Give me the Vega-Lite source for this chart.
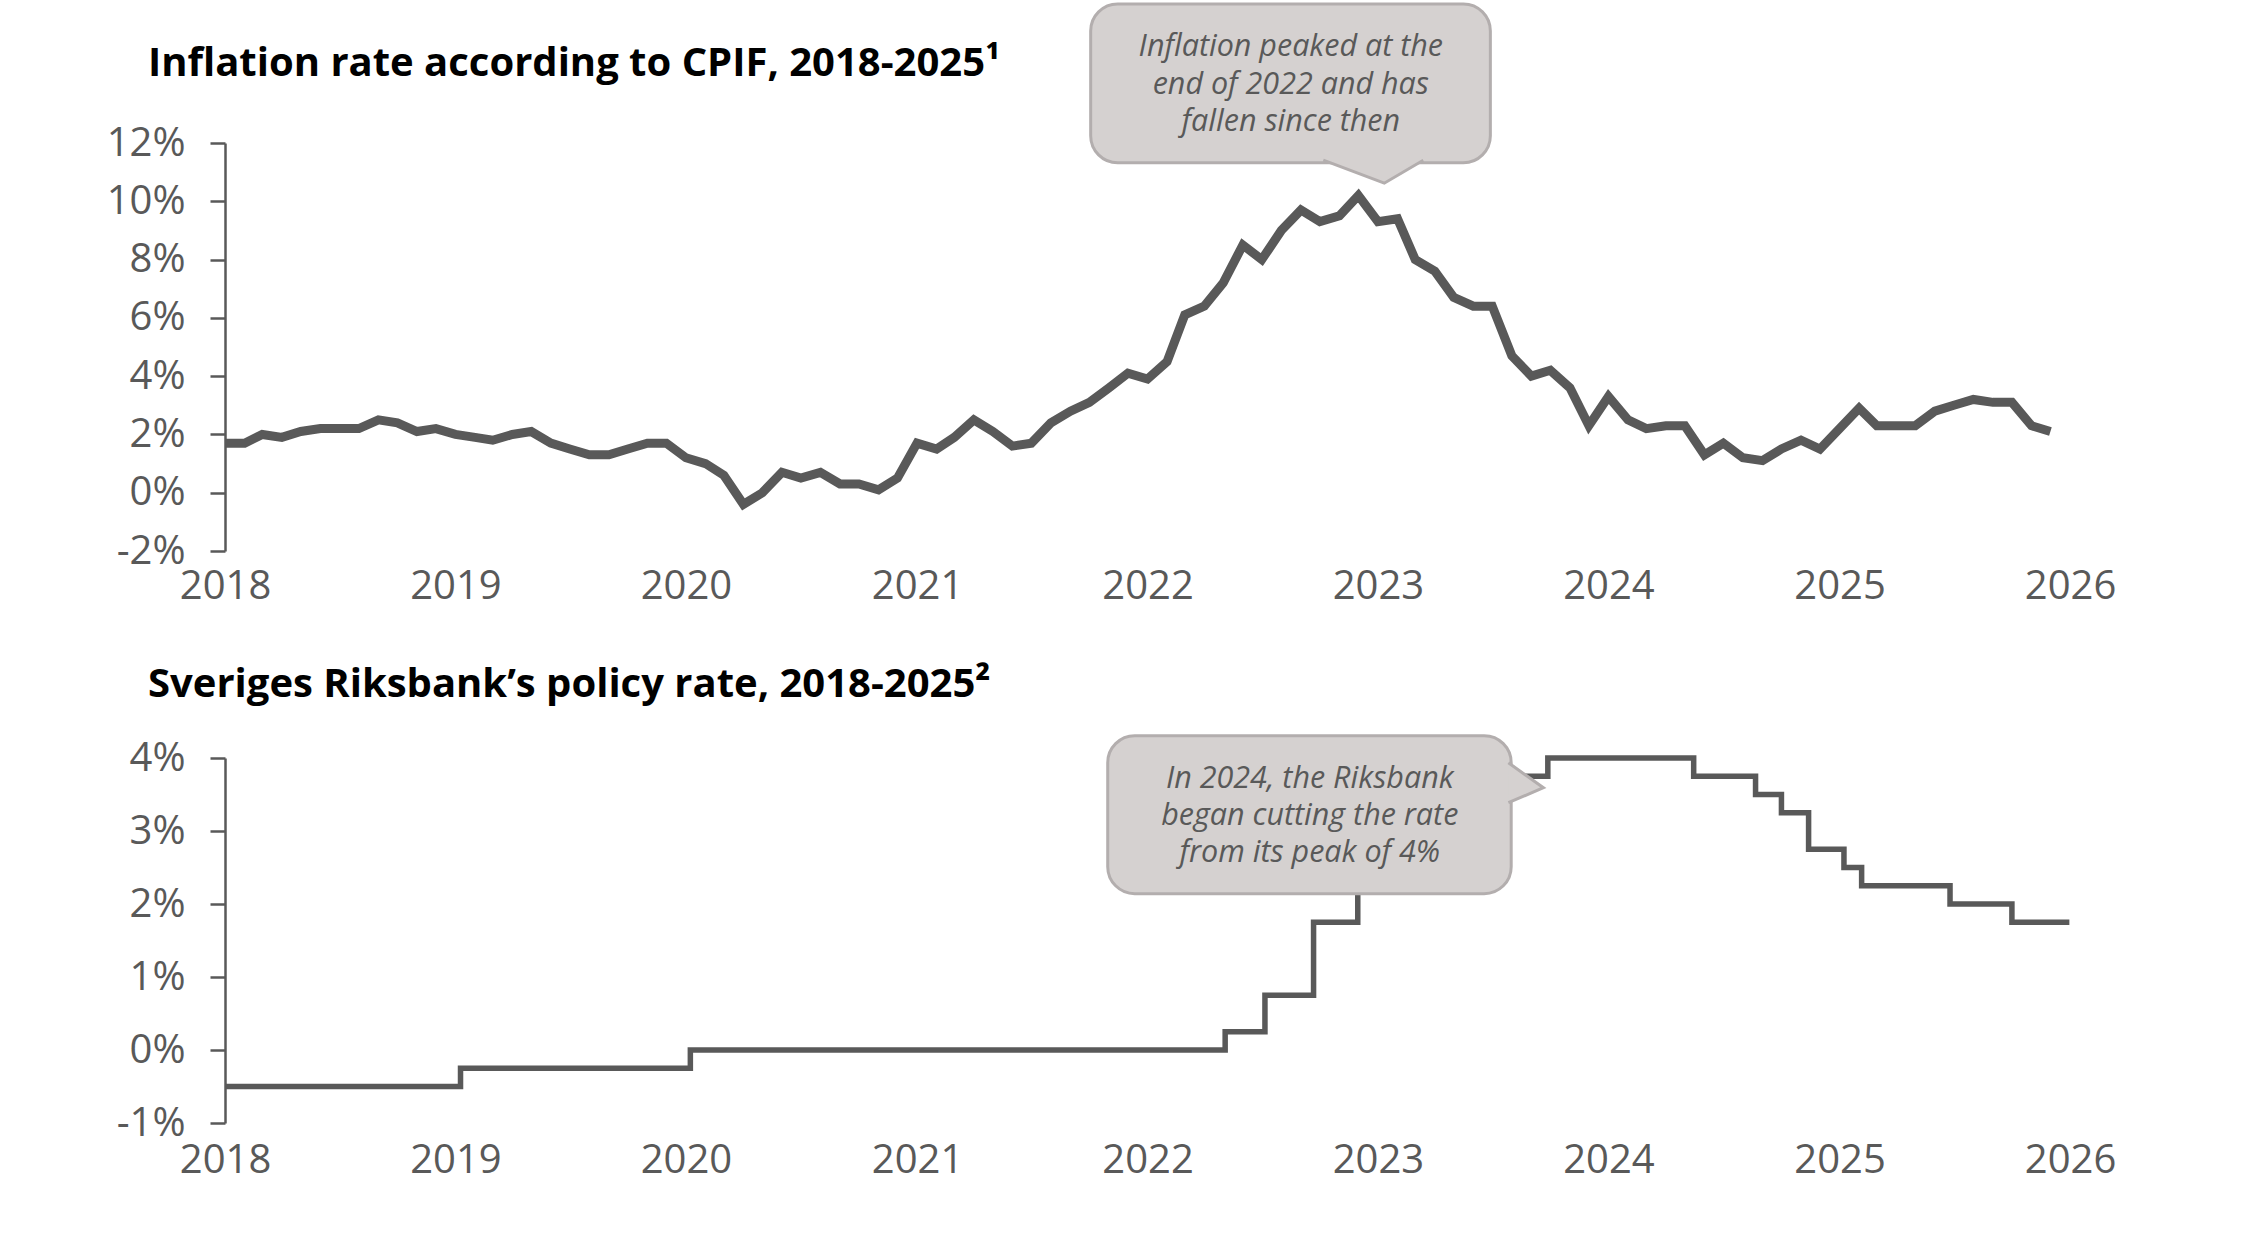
{
  "$schema": "https://vega.github.io/schema/vega-lite/v6.json",
  "background": "white",
  "padding": {"left": 106, "top": 2, "right": 10, "bottom": 12},
  "config": {
    "font": "Open Sans",
    "view": {"stroke": null},
    "axis": {"labelFont": "Open Sans", "labelColor": "#595959", "labelFontSize": 40, "grid": false, "domainColor": "#595959", "tickColor": "#595959", "title": null}
  },
  "datasets": {
    "cpif": [
      {"date": "2018-01-01", "cpif": 1.7}, {"date": "2018-02-01", "cpif": 1.7}, {"date": "2018-03-01", "cpif": 2.0}, {"date": "2018-04-01", "cpif": 1.9},
      {"date": "2018-05-01", "cpif": 2.1}, {"date": "2018-06-01", "cpif": 2.2}, {"date": "2018-07-01", "cpif": 2.2}, {"date": "2018-08-01", "cpif": 2.2},
      {"date": "2018-09-01", "cpif": 2.5}, {"date": "2018-10-01", "cpif": 2.4}, {"date": "2018-11-01", "cpif": 2.1}, {"date": "2018-12-01", "cpif": 2.2},
      {"date": "2019-01-01", "cpif": 2.0}, {"date": "2019-02-01", "cpif": 1.9}, {"date": "2019-03-01", "cpif": 1.8}, {"date": "2019-04-01", "cpif": 2.0},
      {"date": "2019-05-01", "cpif": 2.1}, {"date": "2019-06-01", "cpif": 1.7}, {"date": "2019-07-01", "cpif": 1.5}, {"date": "2019-08-01", "cpif": 1.3},
      {"date": "2019-09-01", "cpif": 1.3}, {"date": "2019-10-01", "cpif": 1.5}, {"date": "2019-11-01", "cpif": 1.7}, {"date": "2019-12-01", "cpif": 1.7},
      {"date": "2020-01-01", "cpif": 1.2}, {"date": "2020-02-01", "cpif": 1.0}, {"date": "2020-03-01", "cpif": 0.6}, {"date": "2020-04-01", "cpif": -0.4},
      {"date": "2020-05-01", "cpif": 0.0}, {"date": "2020-06-01", "cpif": 0.7}, {"date": "2020-07-01", "cpif": 0.5}, {"date": "2020-08-01", "cpif": 0.7},
      {"date": "2020-09-01", "cpif": 0.3}, {"date": "2020-10-01", "cpif": 0.3}, {"date": "2020-11-01", "cpif": 0.1}, {"date": "2020-12-01", "cpif": 0.5},
      {"date": "2021-01-01", "cpif": 1.7}, {"date": "2021-02-01", "cpif": 1.5}, {"date": "2021-03-01", "cpif": 1.9}, {"date": "2021-04-01", "cpif": 2.5},
      {"date": "2021-05-01", "cpif": 2.1}, {"date": "2021-06-01", "cpif": 1.6}, {"date": "2021-07-01", "cpif": 1.7}, {"date": "2021-08-01", "cpif": 2.4},
      {"date": "2021-09-01", "cpif": 2.8}, {"date": "2021-10-01", "cpif": 3.1}, {"date": "2021-11-01", "cpif": 3.6}, {"date": "2021-12-01", "cpif": 4.1},
      {"date": "2022-01-01", "cpif": 3.9}, {"date": "2022-02-01", "cpif": 4.5}, {"date": "2022-03-01", "cpif": 6.1}, {"date": "2022-04-01", "cpif": 6.4},
      {"date": "2022-05-01", "cpif": 7.2}, {"date": "2022-06-01", "cpif": 8.5}, {"date": "2022-07-01", "cpif": 8.0}, {"date": "2022-08-01", "cpif": 9.0},
      {"date": "2022-09-01", "cpif": 9.7}, {"date": "2022-10-01", "cpif": 9.3}, {"date": "2022-11-01", "cpif": 9.5}, {"date": "2022-12-01", "cpif": 10.2},
      {"date": "2023-01-01", "cpif": 9.3}, {"date": "2023-02-01", "cpif": 9.4}, {"date": "2023-03-01", "cpif": 8.0}, {"date": "2023-04-01", "cpif": 7.6},
      {"date": "2023-05-01", "cpif": 6.7}, {"date": "2023-06-01", "cpif": 6.4}, {"date": "2023-07-01", "cpif": 6.4}, {"date": "2023-08-01", "cpif": 4.7},
      {"date": "2023-09-01", "cpif": 4.0}, {"date": "2023-10-01", "cpif": 4.2}, {"date": "2023-11-01", "cpif": 3.6}, {"date": "2023-12-01", "cpif": 2.3},
      {"date": "2024-01-01", "cpif": 3.3}, {"date": "2024-02-01", "cpif": 2.5}, {"date": "2024-03-01", "cpif": 2.2}, {"date": "2024-04-01", "cpif": 2.3},
      {"date": "2024-05-01", "cpif": 2.3}, {"date": "2024-06-01", "cpif": 1.3}, {"date": "2024-07-01", "cpif": 1.7}, {"date": "2024-08-01", "cpif": 1.2},
      {"date": "2024-09-01", "cpif": 1.1}, {"date": "2024-10-01", "cpif": 1.5}, {"date": "2024-11-01", "cpif": 1.8}, {"date": "2024-12-01", "cpif": 1.5},
      {"date": "2025-01-01", "cpif": 2.2}, {"date": "2025-02-01", "cpif": 2.9}, {"date": "2025-03-01", "cpif": 2.3}, {"date": "2025-04-01", "cpif": 2.3},
      {"date": "2025-05-01", "cpif": 2.3}, {"date": "2025-06-01", "cpif": 2.8}, {"date": "2025-07-01", "cpif": 3.0}, {"date": "2025-08-01", "cpif": 3.2},
      {"date": "2025-09-01", "cpif": 3.1}, {"date": "2025-10-01", "cpif": 3.1}, {"date": "2025-11-01", "cpif": 2.3}, {"date": "2025-12-01", "cpif": 2.1}
    ],
    "policy": [
      {"date": "2018-01-01", "rate": -0.5},
      {"date": "2019-01-09", "rate": -0.25},
      {"date": "2020-01-08", "rate": 0},
      {"date": "2022-05-04", "rate": 0.25},
      {"date": "2022-07-06", "rate": 0.75},
      {"date": "2022-09-21", "rate": 1.75},
      {"date": "2022-11-30", "rate": 2.5},
      {"date": "2023-02-15", "rate": 3.0},
      {"date": "2023-04-26", "rate": 3.5},
      {"date": "2023-07-05", "rate": 3.75},
      {"date": "2023-09-27", "rate": 4.0},
      {"date": "2024-05-15", "rate": 3.75},
      {"date": "2024-08-21", "rate": 3.5},
      {"date": "2024-10-01", "rate": 3.25},
      {"date": "2024-11-13", "rate": 2.75},
      {"date": "2025-01-08", "rate": 2.5},
      {"date": "2025-02-05", "rate": 2.25},
      {"date": "2025-06-25", "rate": 2.0},
      {"date": "2025-10-01", "rate": 1.75},
      {"date": "2025-12-31", "rate": 1.75}
    ]
  },
  "vconcat": [
    {
      "width": 1845,
      "height": 408,
      "title": {"text": "Inflation rate according to CPIF, 2018-2025¹", "anchor": "start", "frame": "group", "dx": -77, "offset": -113.5, "baseline": "alphabetic", "font": "Open Sans", "fontSize": 40, "fontWeight": "bold", "color": "#000000"},
      "layer": [
        {
          "mark": {"type": "rule", "color": "#595959", "strokeWidth": 3},
          "encoding": {"y": {"datum": 0, "type": "quantitative", "scale": {"domain": [-2, 12], "nice": false}}}
        },
        {
          "data": {"name": "cpif"},
          "mark": {"type": "line", "color": "#595959", "strokeWidth": 9},
          "encoding": {
            "x": {"field": "date", "type": "temporal",
              "scale": {"type": "utc", "domain": [1514764800000, 1767225600000]},
              "axis": {"format": "%Y", "tickCount": {"interval": "year", "step": 1}, "domain": false, "ticks": false, "labelPadding": 15, "labelFlush": false, "labelOverlap": false}},
            "y": {"field": "cpif", "type": "quantitative",
              "scale": {"domain": [-2, 12], "nice": false},
              "axis": {"values": [-2, 0, 2, 4, 6, 8, 10, 12], "labelExpr": "datum.value + '%'", "tickSize": 15, "tickWidth": 2.5, "domainWidth": 2.5, "labelPadding": 25}}
          }
        },
        {
          "data": {"values": [{}]},
          "mark": {"type": "rect", "cornerRadius": 27, "fill": "#d5d1d0", "stroke": "#b3aeae", "strokeWidth": 3},
          "encoding": {
            "x": {"datum": 1633219200000, "type": "temporal"},
            "x2": {"datum": 1687910400000},
            "y": {"datum": 16.77, "type": "quantitative"},
            "y2": {"datum": 11.32}
          }
        },
        {
          "data": {"values": [{}]},
          "mark": {"type": "point", "shape": "M-61,-23L0,0L39,-23", "size": 4, "filled": true, "fill": "#d5d1d0", "stroke": "#b3aeae", "strokeWidth": 3, "opacity": 1},
          "encoding": {
            "x": {"datum": 1673395200000, "type": "temporal"},
            "y": {"datum": 10.62, "type": "quantitative"}
          }
        },
        {
          "data": {"values": [{}]},
          "mark": {"type": "text", "text": ["Inflation peaked at the", "end of 2022 and has", "fallen since then"], "lineHeight": 37.5, "font": "Open Sans", "fontStyle": "italic", "fontSize": 30.5, "color": "#595959", "align": "center", "baseline": "alphabetic"},
          "encoding": {
            "x": {"datum": 1660608000000, "type": "temporal"},
            "y": {"datum": 14.97, "type": "quantitative"}
          }
        }
      ]
    },
    {
      "width": 1845,
      "height": 365,
      "title": {"text": "Sveriges Riksbank’s policy rate, 2018-2025²", "anchor": "start", "frame": "group", "dx": -77, "offset": -2.5, "baseline": "alphabetic", "font": "Open Sans", "fontSize": 40, "fontWeight": "bold", "color": "#000000"},
      "layer": [
        {
          "mark": {"type": "rule", "color": "#595959", "strokeWidth": 3},
          "encoding": {"y": {"datum": 0, "type": "quantitative", "scale": {"domain": [-1, 4], "nice": false}}}
        },
        {
          "data": {"name": "policy"},
          "mark": {"type": "line", "color": "#595959", "strokeWidth": 5.5, "interpolate": "step-after"},
          "encoding": {
            "x": {"field": "date", "type": "temporal",
              "scale": {"type": "utc", "domain": [1514764800000, 1767225600000]},
              "axis": {"format": "%Y", "tickCount": {"interval": "year", "step": 1}, "domain": false, "ticks": false, "labelPadding": 17, "labelFlush": false, "labelOverlap": false}},
            "y": {"field": "rate", "type": "quantitative",
              "scale": {"domain": [-1, 4], "nice": false},
              "axis": {"values": [-1, 0, 1, 2, 3, 4], "labelExpr": "datum.value + '%'", "tickSize": 15, "tickWidth": 2.5, "domainWidth": 2.5, "labelPadding": 25}}
          }
        },
        {
          "data": {"values": [{}]},
          "mark": {"type": "rect", "cornerRadius": 27, "fill": "#d5d1d0", "stroke": "#b3aeae", "strokeWidth": 3},
          "encoding": {
            "x": {"datum": 1635552000000, "type": "temporal"},
            "x2": {"datum": 1690761600000},
            "y": {"datum": 4.305, "type": "quantitative"},
            "y2": {"datum": 2.142}
          }
        },
        {
          "data": {"values": [{}]},
          "mark": {"type": "point", "shape": "M-35,-25L0,0L-35,15", "size": 4, "filled": true, "fill": "#d5d1d0", "stroke": "#b3aeae", "strokeWidth": 3, "opacity": 1},
          "encoding": {
            "x": {"datum": 1695168000000, "type": "temporal"},
            "y": {"datum": 3.593, "type": "quantitative"}
          }
        },
        {
          "data": {"values": [{}]},
          "mark": {"type": "text", "text": ["In 2024, the Riksbank", "began cutting the rate", "from its peak of 4%"], "lineHeight": 37, "font": "Open Sans", "fontStyle": "italic", "fontSize": 30.5, "color": "#595959", "align": "center", "baseline": "alphabetic"},
          "encoding": {
            "x": {"datum": 1663200000000, "type": "temporal"},
            "y": {"datum": 3.593, "type": "quantitative"}
          }
        }
      ]
    }
  ],
  "spacing": 207,
  "bounds": "flush"
}
